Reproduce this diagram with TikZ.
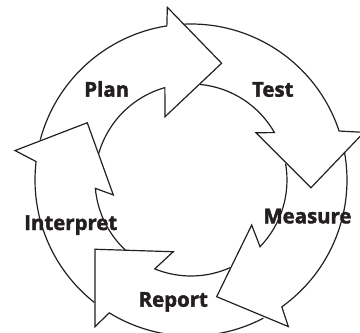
\documentclass[tikz,border=0pt]{standalone}
\usepackage{fontspec}
\newfontfamily\cyclefont[BoldFeatures={FakeBold=2}]{Open Sans}
\definecolor{inkgray}{RGB}{35,31,32}
\usepackage{tikz}
\usetikzlibrary{positioning}

\begin{document}
\begin{tikzpicture}[
  scale=0.025,
  ring/.style={draw=inkgray, line width=0.85pt, line join=miter},
  stage/.style={font=\cyclefont\bfseries\fontsize{14.5}{17}\selectfont,
    text=inkgray, inner sep=0pt, anchor=base}
]
\useasboundingbox (-191,-153) rectangle (169,180);

% Arrows of the cycle (outer arc, head, inner arc back)
\draw[ring] (165:156) arc[start angle=165, end angle=98.9, radius=156]
  -- (97.8:174.3) -- (75.3:120.7) -- (112.3:68.4) -- (105.8:96)
  arc[start angle=105.8, end angle=163.8, radius=96];
\draw[ring] (92.8:156) arc[start angle=92.8, end angle=18.3, radius=156]
  -- (15.4:179.4) -- (-3.7:120.2) -- (36.0:80.4) -- (29.6:96)
  arc[start angle=29.6, end angle=84.6, radius=96];
\draw[ring] (10.4:156) arc[start angle=10.4, end angle=-54.4, radius=156]
  -- (-56.4:176) -- (-77.6:119.5) -- (-36.6:75.6) -- (-44.0:96)
  arc[start angle=-44.0, end angle=9.8, radius=96];
\draw[ring] (-62.4:156) arc[start angle=-62.4, end angle=-121.6, radius=156]
  -- (-123.2:175.3) -- (-144.2:118.4) -- (-103.9:73.9) -- (-112.2:96)
  arc[start angle=-112.2, end angle=-65.8, radius=96];
\draw[ring] (-128.3:156) arc[start angle=-128.3, end angle=-186.8, radius=156]
  -- (-189.5:178.4) -- (-208.9:118.5) -- (-169.1:79.1) -- (-175.0:96)
  arc[start angle=-175.0, end angle=-132.9, radius=96];

% Stages
\node[stage] (plan) at (-84.3,83.3) {Plan};
\node[stage] (test) at (81.8,83.3) {Test};
\node[stage] (measure) at (116.5,-43.3) {Measure};
\node[stage] (report) at (-17.7,-126.7) {Report};
\node[stage] (interpret) at (-120.2,-50) {Interpret};
\end{tikzpicture}
\end{document}
